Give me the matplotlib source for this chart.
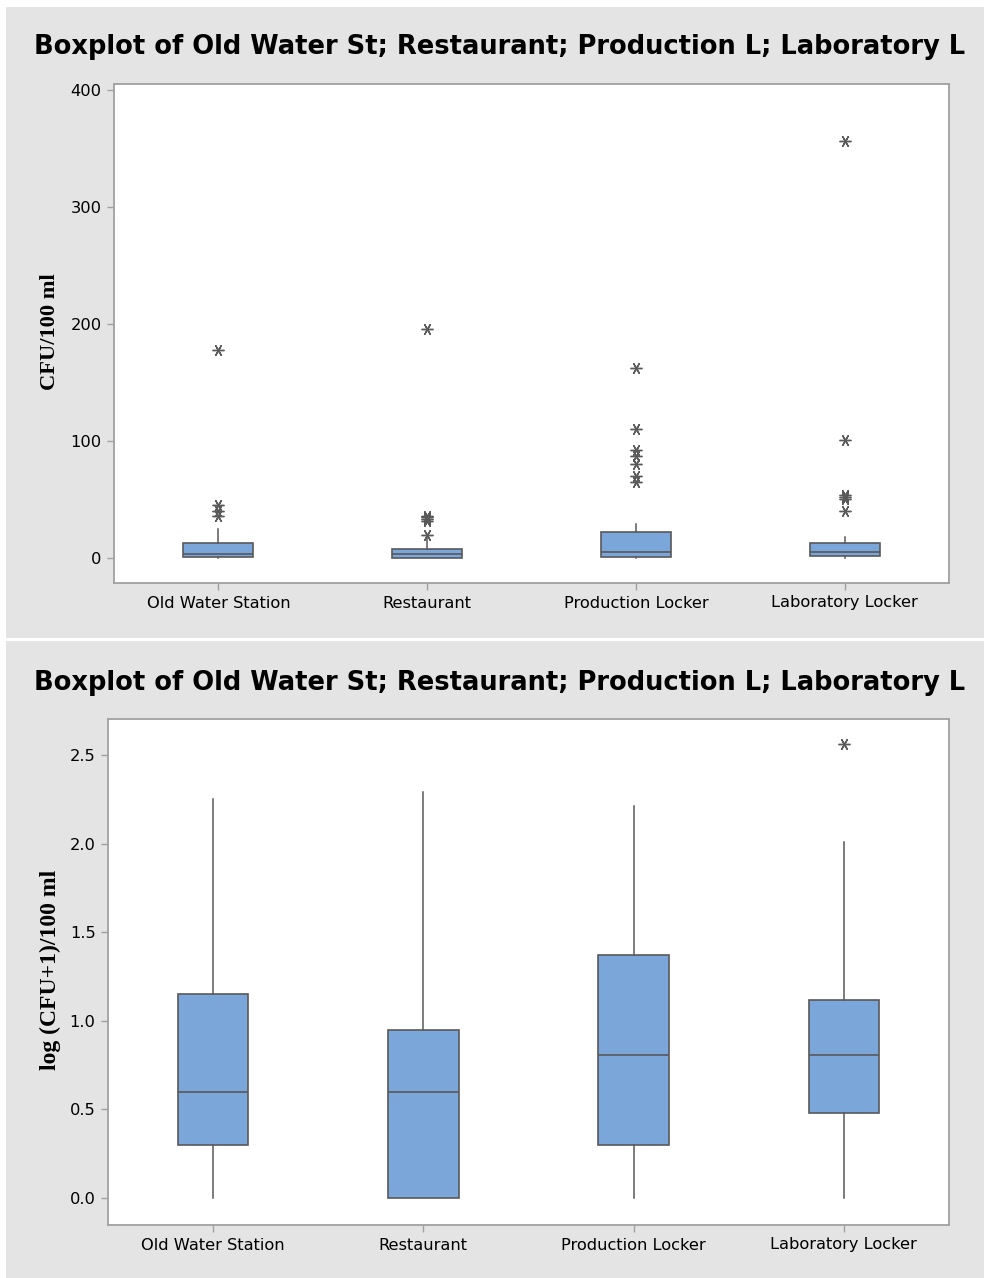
import matplotlib.pyplot as plt
from matplotlib.patches import Rectangle

# categories shared by both panels
sites = ["Old Water Station", "Restaurant", "Production Locker", "Laboratory Locker"]
title = "Boxplot of Old Water St; Restaurant; Production L; Laboratory L"

# raw counts (CFU/100 ml): whisker low, Q1, median, Q3, whisker high
raw_whislo = [0, 0, 0, 0]
raw_q1 = [1, 0, 1, 2]
raw_med = [3, 3, 5.5, 5.5]
raw_q3 = [12.5, 8, 22.5, 12.5]
raw_whishi = [25, 17, 29, 18]
raw_fliers = [
    [36, 40, 45, 178],
    [20, 32, 33, 35, 36, 196],
    [65, 70, 80, 87, 92, 110, 162],
    [40, 50, 52, 54, 101, 356],
]

# log (CFU+1)/100 ml
log_whislo = [0, 0, 0, 0]
log_q1 = [0.30, 0.0, 0.30, 0.48]
log_med = [0.60, 0.60, 0.81, 0.81]
log_q3 = [1.15, 0.95, 1.37, 1.12]
log_whishi = [2.25, 2.29, 2.21, 2.01]
log_fliers = [[], [], [], [2.56]]

FIG_W, FIG_H = 984, 1278
PANEL = "#e4e4e4"
BOX = "#7ba6d9"
EDGE = "#595959"
SPINE = "#a0a0a0"


def make_stats(lo, q1, med, q3, hi, fliers):
    return [dict(whislo=a, q1=b, med=c, q3=d, whishi=e, fliers=f, label=s)
            for a, b, c, d, e, f, s in zip(lo, q1, med, q3, hi, fliers, sites)]


def px_box(x0, y0, x1, y1):
    # pixel box (top-left origin) -> figure fraction rect
    return [x0 / FIG_W, 1 - y1 / FIG_H, (x1 - x0) / FIG_W, (y1 - y0) / FIG_H]


def draw_panel(fig, rect, stats, ylim, yticks, yfmt, ylabel, ylabel_xy, label_size, title_y):
    ax = fig.add_axes(rect)
    ax.bxp(stats, positions=[1, 2, 3, 4], widths=0.335, patch_artist=True,
           showcaps=False,
           boxprops=dict(facecolor=BOX, edgecolor=EDGE, linewidth=1.2),
           medianprops=dict(color=EDGE, linewidth=1.2),
           whiskerprops=dict(color=EDGE, linewidth=1.1),
           flierprops=dict(marker=(6, 2, 90), markersize=8.5, markeredgecolor=EDGE,
                           markeredgewidth=1.0, linestyle="none"))
    ax.set_xlim(0.5, 4.5)
    ax.set_ylim(*ylim)
    ax.set_yticks(yticks)
    ax.set_yticklabels([yfmt.format(t) for t in yticks])
    ax.set_xticks([1, 2, 3, 4])
    ax.set_xticklabels(sites)
    ax.tick_params(axis="both", direction="out", length=5, width=1, color=SPINE,
                   labelsize=11.7, labelcolor="black", pad=4)
    for sp in ax.spines.values():
        sp.set_color(SPINE)
        sp.set_linewidth(1.3)
    fig.text(ylabel_xy[0] / FIG_W, 1 - ylabel_xy[1] / FIG_H, ylabel, rotation=90,
             ha="center", va="center", fontsize=label_size, fontweight="bold",
             family="Liberation Serif")
    fig.text(500 / FIG_W, 1 - title_y / FIG_H, title, ha="center", va="center",
             fontsize=18.5, fontweight="bold", family="DejaVu Sans")
    return ax


plt.rcParams["font.family"] = ["DejaVu Sans"]
fig = plt.figure(figsize=(FIG_W / 100, FIG_H / 100), dpi=100)
fig.patch.set_facecolor("white")

# grey panel backgrounds
fig.add_artist(Rectangle((6 / FIG_W, 1 - 638 / FIG_H), 978 / FIG_W, 631 / FIG_H,
                         transform=fig.transFigure, facecolor=PANEL, edgecolor="none", zorder=0))
fig.add_artist(Rectangle((6 / FIG_W, 0), 978 / FIG_W, (FIG_H - 641) / FIG_H,
                         transform=fig.transFigure, facecolor=PANEL, edgecolor="none", zorder=0))

draw_panel(fig, px_box(114, 84, 949, 583),
           make_stats(raw_whislo, raw_q1, raw_med, raw_q3, raw_whishi, raw_fliers),
           (-21.4, 405.1), [0, 100, 200, 300, 400], "{:.0f}", "CFU/100 ml", (50, 332), 16.2, 47)

draw_panel(fig, px_box(108, 719, 949, 1225),
           make_stats(log_whislo, log_q1, log_med, log_q3, log_whishi, log_fliers),
           (-0.152, 2.703), [0.0, 0.5, 1.0, 1.5, 2.0, 2.5], "{:.1f}",
           "log (CFU+1)/100 ml", (50, 970), 17, 683)

fig.savefig("out.png", dpi=100)
